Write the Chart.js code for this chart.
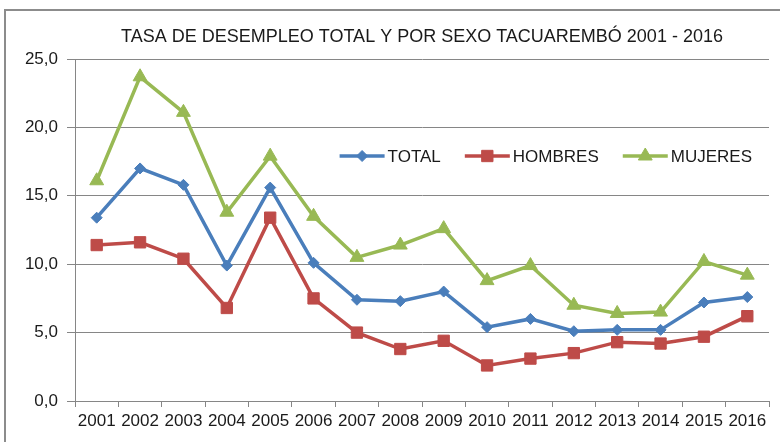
<!DOCTYPE html>
<html>
<head>
<meta charset="utf-8">
<script src="https://cdn.jsdelivr.net/npm/chart.js@4.4.1/dist/chart.umd.min.js"></script>
<style>
  html, body { margin: 0; padding: 0; background: #fff; }
  #wrap { position: relative; width: 780px; height: 442px; overflow: hidden; }
  #frame { position: absolute; left: 4px; top: 9px; width: 900px; height: 600px;
           border-left: 2px solid #8c8c8c; border-top: 2px solid #8c8c8c; }
  canvas { position: absolute; left: 0; top: 0; }
</style>
</head>
<body>
<div id="wrap">
  <div id="frame"></div>
  <canvas id="chart" width="780" height="442"></canvas>
</div>
<script>
/* ---------- DATA ---------- */
const years = ["2001", "2002", "2003", "2004", "2005", "2006", "2007", "2008",
               "2009", "2010", "2011", "2012", "2013", "2014", "2015", "2016"];
const total   = [13.4, 17.0, 15.8, 9.9, 15.6, 10.1, 7.4, 7.3, 8.0, 5.4, 6.0, 5.1, 5.2, 5.2, 7.2, 7.6];
const hombres = [11.4, 11.6, 10.4, 6.8, 13.4, 7.5, 5.0, 3.8, 4.4, 2.6, 3.1, 3.5, 4.3, 4.2, 4.7, 6.2];
const mujeres = [16.1, 23.7, 21.1, 13.8, 17.9, 13.5, 10.5, 11.4, 12.6, 8.8, 9.9, 7.0, 6.4, 6.5, 10.2, 9.2];
const yTicks  = [0, 5, 10, 15, 20, 25];

const FONT = "'Liberation Sans', Arial, sans-serif";
const GRID = "#868686";
const TEXT = "#1a1a1a";

/* ---------- LEGEND (inside plot, top right) ---------- */
const innerLegend = {
    id: "innerLegend",
    afterDraw(chart) {
        const ctx = chart.ctx;
        const area = chart.chartArea;
        const lineLen = 45, textGap = 3, itemGap = 24;
        ctx.save();
        ctx.font = "17px " + FONT;
        const items = chart.data.datasets.map(ds => ({ ds, w: lineLen + textGap + ctx.measureText(ds.label).width }));
        const totalW = items.reduce((s, it) => s + it.w, 0) + itemGap * (items.length - 1);
        let x = area.right - 17 - totalW;
        const y = area.top + 97;
        items.forEach(it => {
            const ds = it.ds;
            ctx.strokeStyle = ds.borderColor;
            ctx.lineWidth = ds.borderWidth;
            ctx.beginPath();
            ctx.moveTo(x, y);
            ctx.lineTo(x + lineLen, y);
            ctx.stroke();
            ctx.fillStyle = ds.pointBackgroundColor;
            ctx.strokeStyle = ds.pointBorderColor;
            ctx.lineWidth = 1;
            Chart.helpers.drawPoint(ctx, {
                pointStyle: ds.pointStyle, radius: ds.pointRadius, rotation: 0, borderWidth: 1
            }, x + lineLen / 2, y);
            ctx.fillStyle = TEXT;
            ctx.textBaseline = "middle";
            ctx.textAlign = "left";
            ctx.fillText(ds.label, x + lineLen + textGap, y + 1);
            x += it.w + itemGap;
        });
        ctx.restore();
    }
};

function series(label, data, color, style, radius) {
    return {
        label, data,
        borderColor: color,
        backgroundColor: color,
        pointBackgroundColor: color,
        pointBorderColor: color,
        borderWidth: 3.5,
        pointStyle: style,
        pointRadius: radius,
        pointBorderWidth: 1,
        tension: 0
    };
}

/* ---------- CHART ---------- */
new Chart(document.getElementById("chart"), {
    type: "line",
    data: {
        labels: years,
        datasets: [
            series("TOTAL", total, "#4A7EBB", "rectRot", 5.5),
            series("HOMBRES", hombres, "#BE4B48", "rect", 8),
            series("MUJERES", mujeres, "#98B954", "triangle", 8)
        ]
    },
    options: {
        responsive: false,
        animation: false,
        layout: { padding: { left: 0, right: 11, top: 0, bottom: 0 } },
        plugins: {
            legend: { display: false },
            tooltip: { enabled: false },
            title: {
                display: true,
                fullSize: false,
                text: "TASA DE DESEMPLEO TOTAL Y POR SEXO TACUAREMBÓ 2001 - 2016",
                color: TEXT,
                font: { family: FONT, size: 18, weight: "normal", lineHeight: 1.2 },
                padding: { top: 26, bottom: 11.4 },
                align: "center"
            }
        },
        scales: {
            x: {
                offset: true,
                afterFit(scale) { scale.height = 41; },
                grid: {
                    offset: true,
                    drawOnChartArea: false,
                    color: GRID,
                    tickLength: 6,
                    tickColor: GRID
                },
                border: { color: GRID, width: 1 },
                ticks: {
                    color: TEXT,
                    padding: 4,
                    maxRotation: 0,
                    autoSkip: false,
                    font: { family: FONT, size: 17 }
                }
            },
            y: {
                min: yTicks[0],
                max: yTicks[yTicks.length - 1],
                afterFit(scale) { scale.width = 75; },
                afterBuildTicks(scale) { scale.ticks = yTicks.map(v => ({ value: v })); },
                grid: {
                    color: GRID,
                    lineWidth: 1,
                    tickLength: 8,
                    tickColor: GRID
                },
                border: { color: GRID, width: 1 },
                ticks: {
                    color: TEXT,
                    padding: 9,
                    font: { family: FONT, size: 17 },
                    callback: v => v.toFixed(1).replace(".", ",")
                }
            }
        }
    },
    plugins: [innerLegend]
});
</script>
</body>
</html>
